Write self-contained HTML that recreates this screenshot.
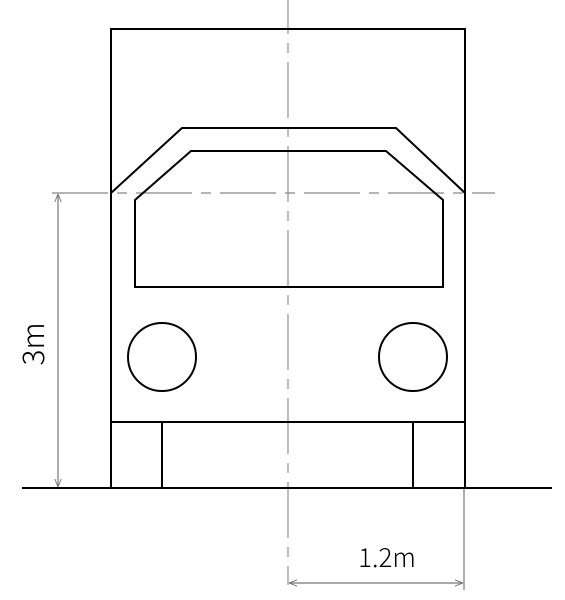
<!DOCTYPE html>
<html><head><meta charset="utf-8"><style>
html,body{margin:0;padding:0;background:#fff;width:565px;height:600px;overflow:hidden}
text{font-family:"Noto Sans CJK JP","Liberation Sans",sans-serif;font-weight:300}
</style></head><body>
<svg width="565" height="600" viewBox="0 0 565 600" xmlns="http://www.w3.org/2000/svg">
<defs>
<marker id="arr" viewBox="0 0 10 10" refX="10" refY="5" markerWidth="8" markerHeight="8" orient="auto-start-reverse" markerUnits="userSpaceOnUse">
<path d="M0,1 L10,5 L0,9" fill="none" stroke="#777" stroke-width="1.2"/>
</marker>
</defs>
<g>
<line x1="288" y1="-22" x2="288" y2="585" stroke="#999" stroke-width="1.3" stroke-dasharray="56 9 10 9"/>
</g>
<line x1="52" y1="193" x2="495" y2="193" stroke="#888" stroke-width="1.2" stroke-dasharray="56 9 10 9"/>
<g fill="none" stroke="#000" stroke-width="2">
<rect x="111" y="29" width="354" height="459"/>
<polyline points="111,193 182,128 396,128 465,193"/>
<polygon points="135,287 135,200 191,151 386,151 443,200 443,287"/>
<circle cx="162" cy="357" r="34"/>
<circle cx="413" cy="357" r="34"/>
<line x1="111" y1="422" x2="465" y2="422"/>
<line x1="162" y1="422" x2="162" y2="488"/>
<line x1="413" y1="422" x2="413" y2="488"/>
<line x1="22" y1="488" x2="552" y2="488"/>
</g>
<g>
<line x1="58" y1="194" x2="58" y2="487" stroke="#777" stroke-width="1.2" marker-start="url(#arr)" marker-end="url(#arr)"/>
<text transform="translate(44,344) rotate(-90)" text-anchor="middle" font-size="30" fill="#000">3m</text>
</g>
<g>
<line x1="464" y1="489" x2="464" y2="590" stroke="#777" stroke-width="1.2"/>
<line x1="289" y1="583" x2="463" y2="583" stroke="#777" stroke-width="1.2" marker-start="url(#arr)" marker-end="url(#arr)"/>
<text x="387" y="567" text-anchor="middle" font-size="26" fill="#000">1.2m</text>
</g>
</svg>
</body></html>
